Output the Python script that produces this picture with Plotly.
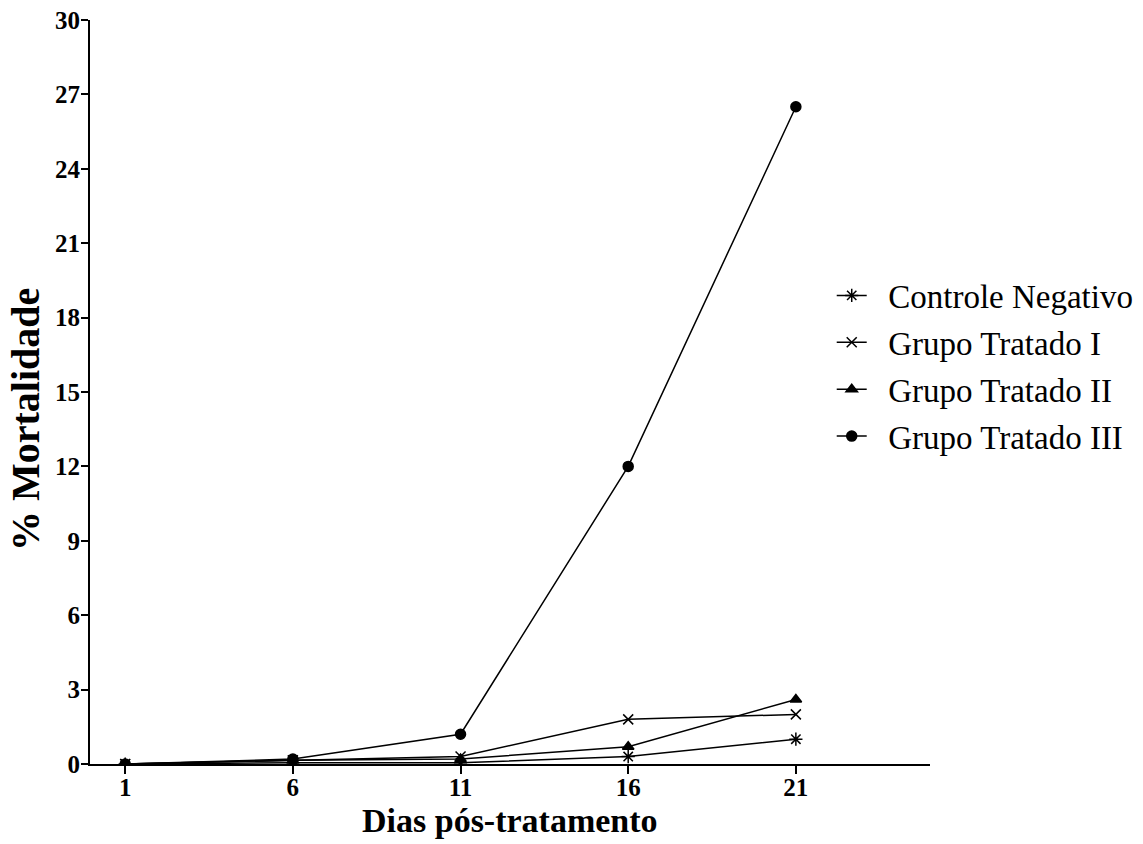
import plotly.graph_objects as go

dias = [1, 6, 11, 16, 21]
controle_negativo = [0, 0.05, 0.05, 0.3, 1.0]
grupo_tratado_i = [0, 0.15, 0.3, 1.8, 2.0]
grupo_tratado_ii = [0, 0.15, 0.2, 0.7, 2.6]
grupo_tratado_iii = [0, 0.2, 1.2, 12.0, 26.5]
y_ticks = [0, 3, 6, 9, 12, 15, 18, 21, 24, 27, 30]

series = [
    ("Controle Negativo", controle_negativo, "asterisk-open", 11),
    ("Grupo Tratado I", grupo_tratado_i, "x-thin-open", 10),
    ("Grupo Tratado II", grupo_tratado_ii, "triangle-up", 10),
    ("Grupo Tratado III", grupo_tratado_iii, "circle", 10),
]

FONT = "Liberation Serif, Times New Roman, serif"
PAD = "\u00a0\u00a0"

fig = go.Figure()
for i, (name, vals, sym, size) in enumerate(series):
    fig.add_trace(go.Scatter(
        x=dias, y=vals, name=PAD + name, mode="lines+markers",
        legendgroup=f"g{i}",
        line=dict(color="black", width=1.5),
        marker=dict(symbol=sym, size=size, color="black",
                    line=dict(color="black", width=1.5)),
    ))

fig.update_layout(
    width=1143, height=844,
    margin=dict(l=90, r=213, t=20, b=80, autoexpand=False),
    paper_bgcolor="white", plot_bgcolor="white",
    font=dict(family=FONT, color="black"),
    legend=dict(
        x=0.883, y=0.535, xanchor="left", yanchor="middle",
        font=dict(family=FONT, size=33, color="black"),
        tracegroupgap=1, traceorder="grouped", itemwidth=30,
        bgcolor="rgba(0,0,0,0)",
    ),
    xaxis=dict(
        range=[-0.05, 25], tickvals=dias, ticktext=[str(d) for d in dias],
        showline=True, linecolor="black", linewidth=2,
        ticks="outside", ticklen=8, tickwidth=1.5, tickcolor="black",
        showgrid=False, zeroline=False, automargin=False,
        ticklabelstandoff=-8,
        tickfont=dict(family=FONT, size=25, weight="bold"),
    ),
    yaxis=dict(
        range=[0, 30], tickvals=y_ticks,
        showline=True, linecolor="black", linewidth=2,
        ticks="outside", ticklen=7, tickwidth=1.5, tickcolor="black",
        showgrid=False, zeroline=False, automargin=False,
        ticklabelstandoff=-4,
        tickfont=dict(family=FONT, size=25, weight="bold"),
    ),
    annotations=[
        dict(text="<b>Dias pós-tratamento</b>", xref="paper", yref="paper",
             x=0.5, y=0, yshift=-56, xanchor="center", yanchor="middle",
             showarrow=False, font=dict(family=FONT, size=34, color="black")),
        dict(text="<b>% Mortalidade</b>", xref="paper", yref="paper",
             x=0, y=0.4624, xshift=-64, xanchor="center", yanchor="middle",
             textangle=-90, showarrow=False,
             font=dict(family=FONT, size=40, color="black")),
    ],
)

fig.write_html("out.html",
               config={"displayModeBar": False},
               post_script="document.body.style.margin='0';")
